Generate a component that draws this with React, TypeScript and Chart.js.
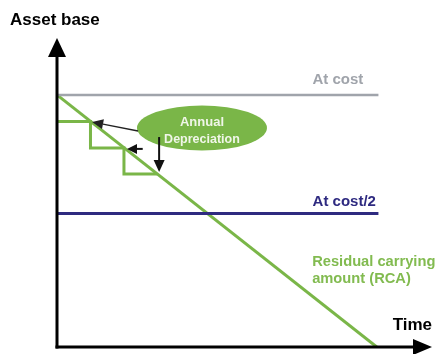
import React, { useEffect, useRef } from "react";
import { Chart, registerables } from "chart.js";

Chart.register(...registerables);

// ---- data (time in years, asset base in % of cost) ----
const atCostValue = 100;
const atCostHalfValue = 53;
const lineEndYear = 9.6;
const usefulLifeYears = 9.55;
const stepYears = [0, 1, 2, 3];
const stepValues = [89.5, 79.0, 68.6];

const titleY = "Asset base";
const titleX = "Time";
const labelAtCost = "At cost";
const labelAtCostHalf = "At cost/2";
const labelRca = ["Residual carrying", "amount (RCA)"];
const labelDep = ["Annual", "Depreciation"];

const xMax = 11.2;
const yMax = 122.6;

const FONT = '"Liberation Sans", Arial, Helvetica, sans-serif';
const GREEN = "#7ab648";
const GRAY = "#a0a4ab";
const NAVY = "#2e2a80";

function buildStairs() {
  const pts: { x: number; y: number }[] = [];
  for (let i = 0; i < stepValues.length; i++) {
    pts.push({ x: stepYears[i], y: stepValues[i] });
    pts.push({ x: stepYears[i + 1], y: stepValues[i] });
  }
  return pts;
}

function arrow(
  ctx: CanvasRenderingContext2D,
  x1: number,
  y1: number,
  x2: number,
  y2: number,
  lw: number,
  headLen: number,
  headHalf: number,
  color: string
) {
  const ang = Math.atan2(y2 - y1, x2 - x1);
  const bx = x2 - headLen * Math.cos(ang);
  const by = y2 - headLen * Math.sin(ang);
  ctx.save();
  ctx.strokeStyle = color;
  ctx.fillStyle = color;
  ctx.lineWidth = lw;
  ctx.beginPath();
  ctx.moveTo(x1, y1);
  ctx.lineTo(bx, by);
  ctx.stroke();
  ctx.beginPath();
  ctx.moveTo(x2, y2);
  ctx.lineTo(bx + headHalf * Math.sin(ang), by - headHalf * Math.cos(ang));
  ctx.lineTo(bx - headHalf * Math.sin(ang), by + headHalf * Math.cos(ang));
  ctx.closePath();
  ctx.fill();
  ctx.restore();
}

const annotationPlugin = {
  id: "annotations",
  afterDatasetsDraw(chart: any) {
    const ctx: CanvasRenderingContext2D = chart.ctx;
    const sx = chart.scales.x;
    const sy = chart.scales.y;
    const px = (v: number) => sx.getPixelForValue(v);
    const py = (v: number) => sy.getPixelForValue(v);
    const area = chart.chartArea;

    ctx.save();
    // ellipse
    ctx.fillStyle = GREEN;
    ctx.beginPath();
    ctx.ellipse(px(4.33), py(86.9), 65, 22.5, 0, 0, Math.PI * 2);
    ctx.fill();
    ctx.fillStyle = "#f0f6e8";
    ctx.textAlign = "center";
    ctx.textBaseline = "middle";
    ctx.font = `bold 13px ${FONT}`;
    ctx.fillText(labelDep[0], px(4.33), py(86.9) - 6);
    ctx.font = `bold 12.5px ${FONT}`;
    ctx.fillText(labelDep[1], px(4.33), py(86.9) + 12);

    // arrows to the steps
    arrow(ctx, px(2.42), py(85.7), px(1.05), py(89.3), 1.4, 11, 5, "#222");
    arrow(ctx, px(2.56), py(78.6), px(2.09), py(78.6), 2, 10, 5, "#111");
    arrow(ctx, px(3.05), py(83.3), px(3.05), py(69.4), 2, 12, 5.5, "#111");

    // labels
    ctx.textAlign = "center";
    ctx.font = `bold 15px ${FONT}`;
    ctx.fillStyle = GRAY;
    ctx.fillText(labelAtCost, px(8.39), py(atCostValue) - 15);
    ctx.fillStyle = NAVY;
    ctx.fillText(labelAtCostHalf, px(8.58), py(atCostHalfValue) - 12);

    ctx.textAlign = "left";
    ctx.fillStyle = "#82bb50";
    ctx.font = `bold 14.7px ${FONT}`;
    ctx.fillText(labelRca[0], px(7.62), py(33.7));
    ctx.fillText(labelRca[1], px(7.62), py(33.7) + 17);

    // axes
    const x0 = area.left;
    const y0 = area.bottom;
    ctx.strokeStyle = "#000";
    ctx.fillStyle = "#000";
    ctx.lineWidth = 3;
    ctx.beginPath();
    ctx.moveTo(x0, y0 + 1.5);
    ctx.lineTo(x0, area.top + 18);
    ctx.stroke();
    ctx.beginPath();
    ctx.moveTo(x0, area.top);
    ctx.lineTo(x0 - 9, area.top + 19);
    ctx.lineTo(x0 + 9, area.top + 19);
    ctx.closePath();
    ctx.fill();

    ctx.beginPath();
    ctx.moveTo(x0 - 1.5, y0);
    ctx.lineTo(area.right - 18, y0);
    ctx.stroke();
    ctx.beginPath();
    ctx.moveTo(area.right, y0);
    ctx.lineTo(area.right - 19, y0 - 8);
    ctx.lineTo(area.right - 19, y0 + 8);
    ctx.closePath();
    ctx.fill();

    ctx.font = `bold 17px ${FONT}`;
    ctx.textAlign = "left";
    ctx.fillText(titleY, 10, 20);
    ctx.textAlign = "right";
    ctx.fillText(titleX, area.right, y0 - 22);
    ctx.restore();
  },
};

export default function App() {
  const ref = useRef<HTMLCanvasElement | null>(null);

  useEffect(() => {
    if (!ref.current) return;
    const chart = new Chart(ref.current, {
      type: "scatter",
      data: {
        datasets: [
          {
            label: labelAtCost,
            data: [
              { x: 0, y: atCostValue },
              { x: lineEndYear, y: atCostValue },
            ],
            borderColor: GRAY,
            borderWidth: 2.5,
            showLine: true,
            pointRadius: 0,
          },
          {
            label: labelAtCostHalf,
            data: [
              { x: 0, y: atCostHalfValue },
              { x: lineEndYear, y: atCostHalfValue },
            ],
            borderColor: NAVY,
            borderWidth: 3,
            showLine: true,
            pointRadius: 0,
          },
          {
            label: "RCA",
            data: [
              { x: 0, y: atCostValue },
              { x: usefulLifeYears, y: 0 },
            ],
            borderColor: GREEN,
            borderWidth: 3,
            showLine: true,
            pointRadius: 0,
          },
          {
            label: "Steps",
            data: buildStairs(),
            borderColor: GREEN,
            borderWidth: 3,
            showLine: true,
            pointRadius: 0,
          },
        ],
      },
      options: {
        animation: false,
        responsive: false,
        maintainAspectRatio: false,
        layout: { padding: { left: 57, right: 5, top: 38, bottom: 7 } },
        plugins: { legend: { display: false }, tooltip: { enabled: false }, title: { display: false } },
        scales: {
          x: { type: "linear", min: 0, max: xMax, display: false },
          y: { type: "linear", min: 0, max: yMax, display: false },
        },
      },
      plugins: [annotationPlugin],
    });
    return () => chart.destroy();
  }, []);

  return (
    <div style={{ position: "fixed", left: 0, top: 0, width: 437, height: 354, background: "#fff" }}>
      <canvas ref={ref} width={437} height={354} style={{ display: "block" }} />
    </div>
  );
}
